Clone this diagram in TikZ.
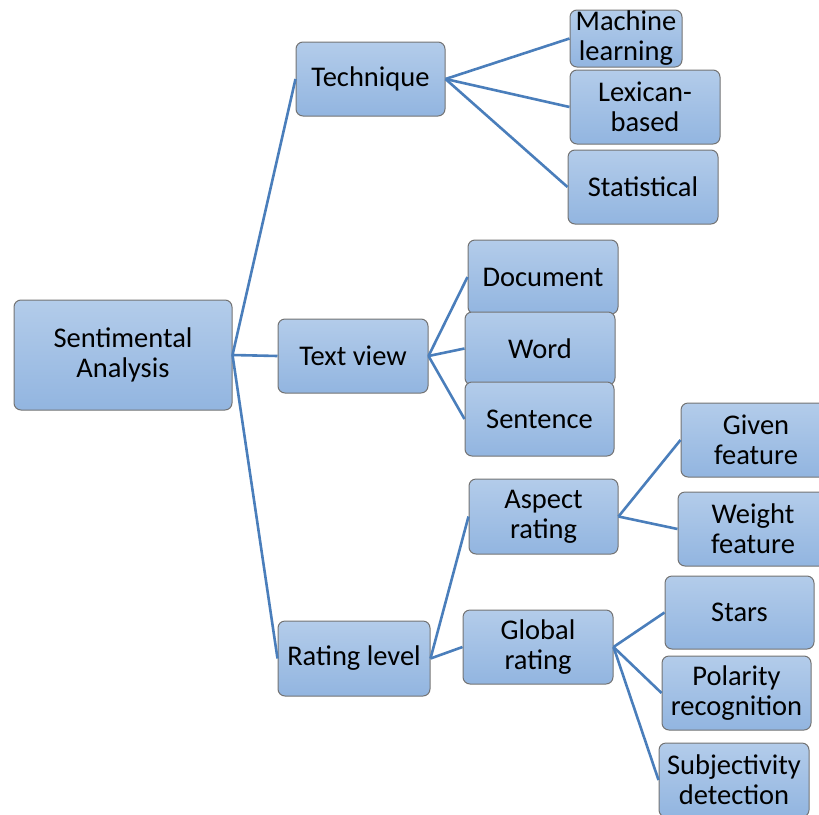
\documentclass[tikz,border=0pt]{standalone}
\usepackage{fontspec}
\setmainfont{Carlito}
\begin{document}
\begin{tikzpicture}[x=1pt,y=-1pt,
  box/.style={draw=black!55, line width=1pt, rounded corners=7pt,
    top color=boxtop, bottom color=boxbot, align=center, inner sep=0pt,
    font=\fontsize{28.5}{30}\selectfont, text=black},
  link/.style={draw=linkblue, line width=2.6pt}]
\definecolor{boxtop}{HTML}{B3CCEA}
\definecolor{boxbot}{HTML}{92B5E0}
\definecolor{linkblue}{HTML}{4A7EBB}
\useasboundingbox (0,0) rectangle (819,814);
\clip (0,0) rectangle (819,814);
% boxes: centre, width, height in px
\newcommand{\boxat}[6]{\node[box, minimum width=#4, minimum height=#5] (#1) at (#2,#3) {#6};}
\boxat{sa}{123}{355}{218}{110}{Sentimental\\Analysis}
\boxat{tech}{370.5}{79}{149}{74}{Technique}
\boxat{tv}{353}{356}{150}{74}{Text view}
\boxat{rl}{354}{658.5}{152}{75}{Rating level}
\boxat{ml}{626}{38.5}{112}{57}{Machine\\learning}
\boxat{lex}{645}{107}{150}{74}{Lexican-\\based}
\boxat{stat}{643}{187}{150}{74}{Statistical}
\boxat{doc}{543}{277}{150}{74}{Document}
\boxat{word}{540}{348.5}{150}{73}{Word}
\boxat{sent}{539.5}{419}{149}{74}{Sentence}
\boxat{asp}{543.5}{516.5}{149}{75}{Aspect\\rating}
\boxat{glob}{538}{647}{150}{74}{Global\\rating}
\boxat{given}{756}{440}{150}{74}{Given\\feature}
\boxat{weight}{753}{529}{150}{74}{Weight\\feature}
\boxat{stars}{739.5}{612.5}{149}{73}{Stars}
\boxat{pol}{736.5}{693}{149}{74}{Polarity\\recognition}
\boxat{subj}{734}{780}{150}{74}{Subjectivity\\detection}
% connectors
\draw[link] (sa.east) -- (tech.west);
\draw[link] (sa.east) -- (tv.west);
\draw[link] (sa.east) -- (rl.west);
\draw[link] (tech.east) -- (ml.west);
\draw[link] (tech.east) -- (lex.west);
\draw[link] (tech.east) -- (stat.west);
\draw[link] (tv.east) -- (doc.west);
\draw[link] (tv.east) -- (word.west);
\draw[link] (tv.east) -- (sent.west);
\draw[link] (rl.east) -- (asp.west);
\draw[link] (rl.east) -- (glob.west);
\draw[link] (asp.east) -- (given.west);
\draw[link] (asp.east) -- (weight.west);
\draw[link] (glob.east) -- (stars.west);
\draw[link] (glob.east) -- (pol.west);
\draw[link] (glob.east) -- (subj.west);
\end{tikzpicture}
\end{document}
